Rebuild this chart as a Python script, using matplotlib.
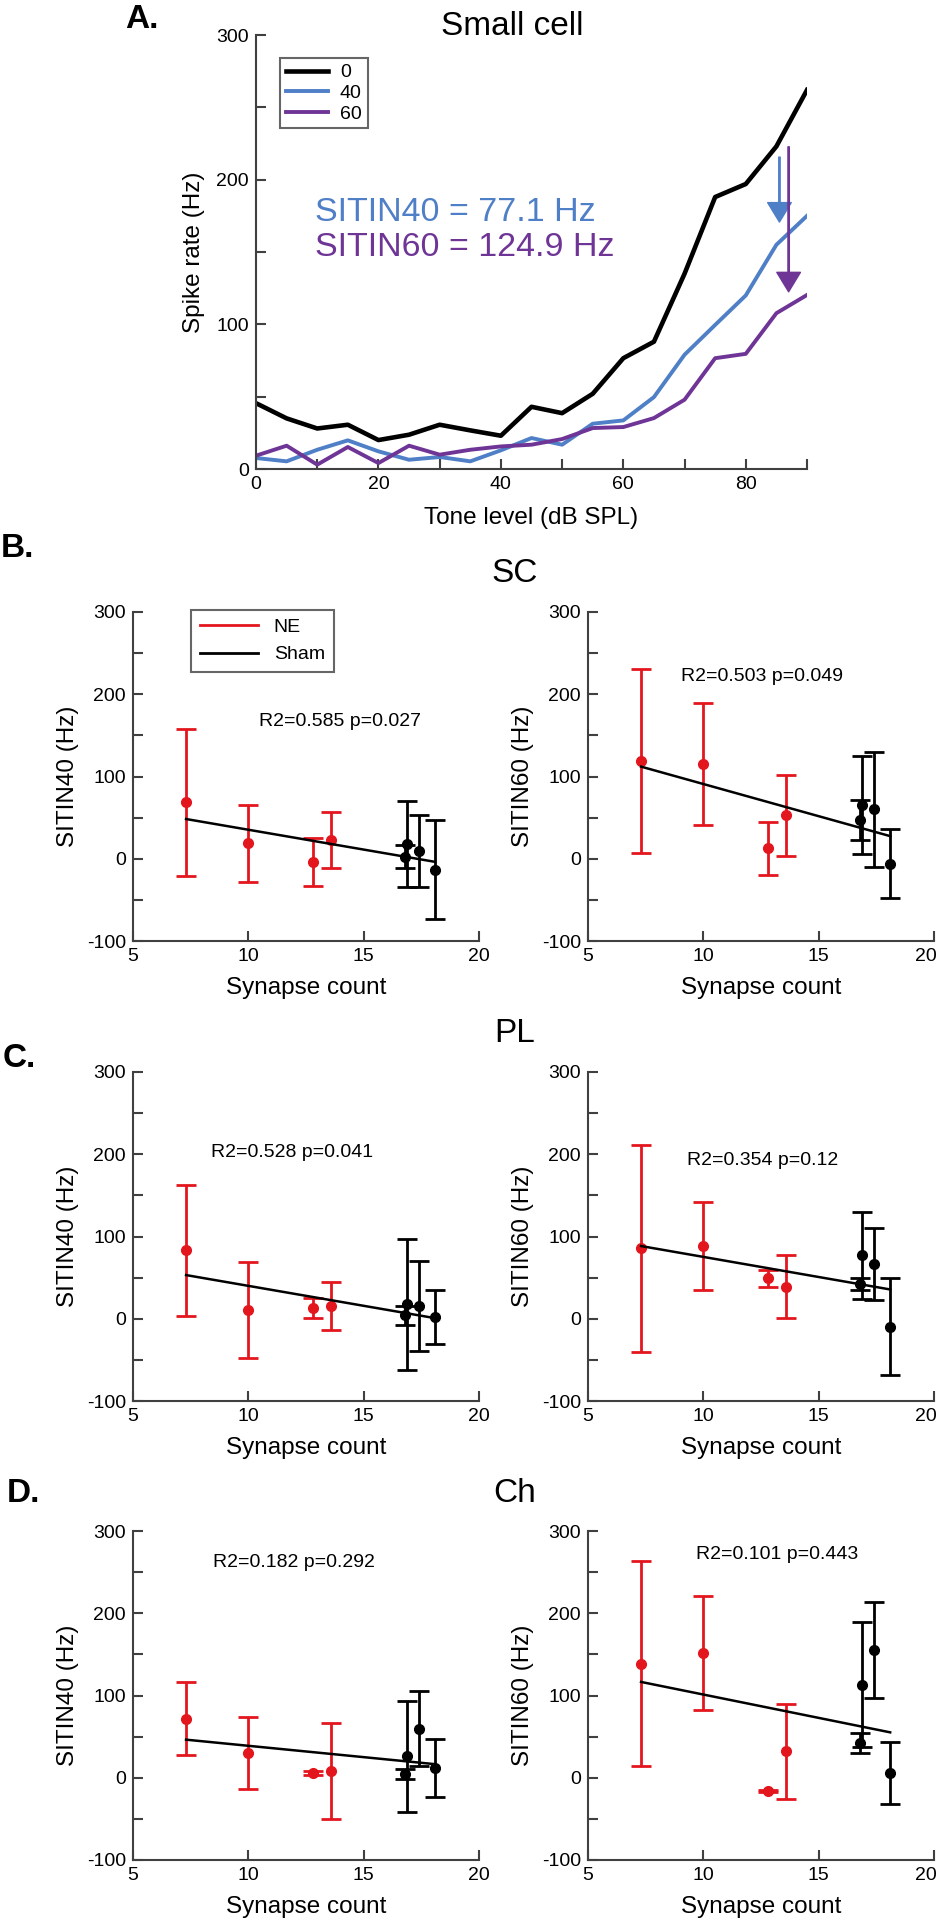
import numpy as np
import matplotlib
matplotlib.use("Agg")
import matplotlib.pyplot as plt
from matplotlib.ticker import MultipleLocator, NullLocator, FuncFormatter

plt.rcParams['font.family'] = ['Liberation Sans', 'DejaVu Sans']
plt.rcParams['axes.unicode_minus'] = False

# panel A: rate-level curves of the small cell
tone_db = [0, 5, 10, 15, 20, 25, 30, 35, 40, 45, 50, 55, 60, 65, 70, 75, 80, 85, 90]
rate_0 = [45.5, 35, 28, 30.6, 20, 23.7, 30.6, 26.7, 23, 43, 38.6, 52, 76.6, 88, 135, 188, 197, 223, 262]
rate_40 = [7.6, 5.3, 13.3, 19.8, 12.2, 6.4, 8.3, 5.3, 12.9, 21.4, 16.8, 31.3, 33.6, 49.7, 79, 99.6, 120, 155, 175]
rate_60 = [9.2, 16.1, 3, 15.2, 4.1, 16.1, 9.9, 13.3, 15.6, 16.8, 20.7, 28.3, 29, 35.2, 47.9, 76.6, 79.6, 107.7, 120.3]
noise_labels = ['0', '40', '60']
sitin_text = ['SITIN40 = 77.1 Hz', 'SITIN60 = 124.9 Hz']

# panels B-D: SITIN vs synapse count (mean +- error)
syn_ne = [7.3, 10.0, 12.8, 13.6]
syn_sham = [16.8, 16.9, 17.4, 18.1]

sc40_ne = [68.5, 18.6, -3.8, 22.6]
sc40_ne_err = [89.5, 46.7, 28.9, 34.3]
sc40_sham = [2.3, 17.8, 9.6, -13.1]
sc40_sham_err = [13.9, 52.0, 43.9, 60.7]

sc60_ne = [119.3, 115.6, 12.5, 52.8]
sc60_ne_err = [112.0, 74.3, 32.1, 49.3]
sc60_sham = [47.0, 65.3, 60.0, -5.8]
sc60_sham_err = [24.8, 59.7, 70.2, 41.6]

pl40_ne = [83.2, 10.9, 12.9, 15.4]
pl40_ne_err = [80.0, 58.3, 12.2, 29.2]
pl40_sham = [4.4, 17.8, 15.4, 2.3]
pl40_sham_err = [11.6, 79.6, 54.6, 33.1]

pl60_ne = [85.6, 88.4, 49.0, 38.9]
pl60_ne_err = [125.7, 54.0, 10.1, 38.5]
pl60_sham = [42.1, 77.1, 66.5, -9.8]
pl60_sham_err = [7.1, 53.1, 43.6, 58.9]

ch40_ne = [71.9, 30.0, 5.7, 8.5]
ch40_ne_err = [44.2, 43.4, 2.0, 58.5]
ch40_sham = [4.1, 26.0, 59.7, 11.8]
ch40_sham_err = [6.0, 67.6, 45.7, 35.3]

ch60_ne = [138.9, 151.9, -15.8, 32.1]
ch60_ne_err = [124.3, 69.0, 1.5, 57.6]
ch60_sham = [42.2, 113.3, 155.1, 5.7]
ch60_sham_err = [12.2, 75.5, 58.7, 37.6]

# regression line values at min / max synapse count
fit_ends = [(48.3, -3.8), (112.0, 27.5), (53.1, 0.7), (88.4, 35.6), (46.3, 16.5), (116.5, 55.2)]
stats = ['R2=0.585 p=0.027', 'R2=0.503 p=0.049', 'R2=0.528 p=0.041',
         'R2=0.354 p=0.12', 'R2=0.182 p=0.292', 'R2=0.101 p=0.443']
stats_pos = [(10.48, 166.8), (9.04, 221.6), (8.38, 202), (9.29, 192.3), (8.48, 262), (9.70, 272)]
region_names = ['SC', 'PL', 'Ch']
ylabels = ['SITIN40 (Hz)', 'SITIN60 (Hz)']

SPINE = '#404040'
RED = '#e3161e'
BLUE = '#4f7fc6'
PURPLE = '#6f3596'
W, H = 942, 1920


def style_axes(ax):
    for s in ['top', 'right']:
        ax.spines[s].set_visible(False)
    for s in ['left', 'bottom']:
        ax.spines[s].set_color(SPINE)
        ax.spines[s].set_linewidth(1.5)
    ax.tick_params(which='both', direction='in', length=7, width=1.5, color=SPINE,
                   labelsize=14, pad=5)


fig = plt.figure(figsize=(W / 100, H / 100), dpi=100)

# ---- panel A
axA = fig.add_axes([256 / W, 1 - 469 / H, 551 / W, 434 / H])
style_axes(axA)
axA.plot(tone_db, rate_0, color='black', lw=3.3, label=noise_labels[0])
axA.plot(tone_db, rate_40, color=BLUE, lw=2.8, label=noise_labels[1])
axA.plot(tone_db, rate_60, color=PURPLE, lw=2.8, label=noise_labels[2])
axA.set_xlim(0, 90)
axA.set_ylim(0, 300)
axA.xaxis.set_major_locator(MultipleLocator(20))
axA.xaxis.set_minor_locator(MultipleLocator(10))
axA.yaxis.set_major_locator(MultipleLocator(100))
axA.yaxis.set_minor_locator(MultipleLocator(50))
axA.set_xlabel('Tone level (dB SPL)', fontsize=17.5, labelpad=10)
axA.set_ylabel('Spike rate (Hz)', fontsize=17.5, labelpad=8)
leg = axA.legend(loc='upper left', bbox_to_anchor=(0.043, 0.947), fontsize=14, frameon=True,
                 fancybox=False, handlelength=2.2, handletextpad=0.6, borderpad=0.3,
                 labelspacing=0.15, borderaxespad=0)
leg.get_frame().set_edgecolor(SPINE)
leg.get_frame().set_linewidth(1.5)
axA.text(9.6, 177, sitin_text[0], color=BLUE, fontsize=24.5, va='center', ha='left')
axA.text(9.6, 153, sitin_text[1], color=PURPLE, fontsize=24.5, va='center', ha='left')
axA.annotate('', xy=(85.5, 170.7), xytext=(85.5, 215.6),
             arrowprops=dict(facecolor=BLUE, edgecolor=BLUE, width=1.0, headwidth=17,
                             headlength=14, shrink=0))
axA.annotate('', xy=(87.0, 122.5), xytext=(87.0, 222.7),
             arrowprops=dict(facecolor=PURPLE, edgecolor=PURPLE, width=1.0, headwidth=17,
                             headlength=14, shrink=0))
fig.text(512 / W, 1 - 35 / H, 'Small cell', fontsize=24, ha='center', va='baseline')

# ---- panels B-D
panels = [
    (sc40_ne, sc40_ne_err, sc40_sham, sc40_sham_err),
    (sc60_ne, sc60_ne_err, sc60_sham, sc60_sham_err),
    (pl40_ne, pl40_ne_err, pl40_sham, pl40_sham_err),
    (pl60_ne, pl60_ne_err, pl60_sham, pl60_sham_err),
    (ch40_ne, ch40_ne_err, ch40_sham, ch40_sham_err),
    (ch60_ne, ch60_ne_err, ch60_sham, ch60_sham_err),
]
row_bottom = [941, 1401, 1860]
col_left = [133, 588]

for i, (ne, ne_err, sham, sham_err) in enumerate(panels):
    r, c = divmod(i, 2)
    ax = fig.add_axes([col_left[c] / W, 1 - row_bottom[r] / H, 346 / W, 329 / H])
    style_axes(ax)
    ax.errorbar(syn_ne, ne, yerr=ne_err, fmt='o', color=RED, ms=7, elinewidth=2,
                capsize=7, capthick=2, zorder=3)
    ax.errorbar(syn_sham, sham, yerr=sham_err, fmt='o', color='black', ms=7, elinewidth=2,
                capsize=7, capthick=2, zorder=3)
    xs = [min(syn_ne), max(syn_sham)]
    ax.plot(xs, fit_ends[i], color='black', lw=1.8, zorder=4)
    ax.text(stats_pos[i][0], stats_pos[i][1], stats[i], fontsize=14, ha='left', va='center')
    ax.set_xlim(5, 20)
    ax.set_ylim(-100, 300)
    ax.xaxis.set_major_locator(MultipleLocator(5))
    ax.xaxis.set_minor_locator(NullLocator())
    ax.yaxis.set_major_locator(MultipleLocator(100))
    ax.yaxis.set_minor_locator(MultipleLocator(50))
    ax.set_xlabel('Synapse count', fontsize=17.5, labelpad=9)
    ax.set_ylabel(ylabels[c], fontsize=17.5, labelpad=6)
    if c == 1:
        # keep the last tick label inside the figure edge
        ax.xaxis.set_major_formatter(FuncFormatter(lambda v, p: '' if v >= 20 else '%g' % v))
        ax.annotate('20', xy=(20, 0), xycoords=('data', 'axes fraction'), xytext=(2, -5),
                    textcoords='offset points', ha='right', va='top', fontsize=14)
    if i == 0:
        h1, = ax.plot([], [], color=RED, lw=2)
        h2, = ax.plot([], [], color='black', lw=2)
        lg = ax.legend([h1, h2], ['NE', 'Sham'], loc='upper left',
                       bbox_to_anchor=(0.168, 1.007), fontsize=14, frameon=True,
                       fancybox=False, handlelength=3.0, handletextpad=0.8,
                       borderpad=0.45, labelspacing=0.5, borderaxespad=0)
        lg.get_frame().set_edgecolor(SPINE)
        lg.get_frame().set_linewidth(1.5)

# section titles and panel letters
title_base = [581.7, 1041.7, 1501.7]
for name, yb in zip(region_names, title_base):
    fig.text(515 / W, 1 - yb / H, name, fontsize=24, ha='center', va='baseline')

fig.text(142 / W, 1 - 28 / H, 'A.', fontsize=24, fontweight='bold', ha='center', va='baseline')
fig.text(1 / W, 1 - 557 / H, 'B.', fontsize=24, fontweight='bold', ha='left', va='baseline')
fig.text(3 / W, 1 - 1067 / H, 'C.', fontsize=24, fontweight='bold', ha='left', va='baseline')
fig.text(7 / W, 1 - 1502 / H, 'D.', fontsize=24, fontweight='bold', ha='left', va='baseline')

fig.savefig('out.png', dpi=100)
